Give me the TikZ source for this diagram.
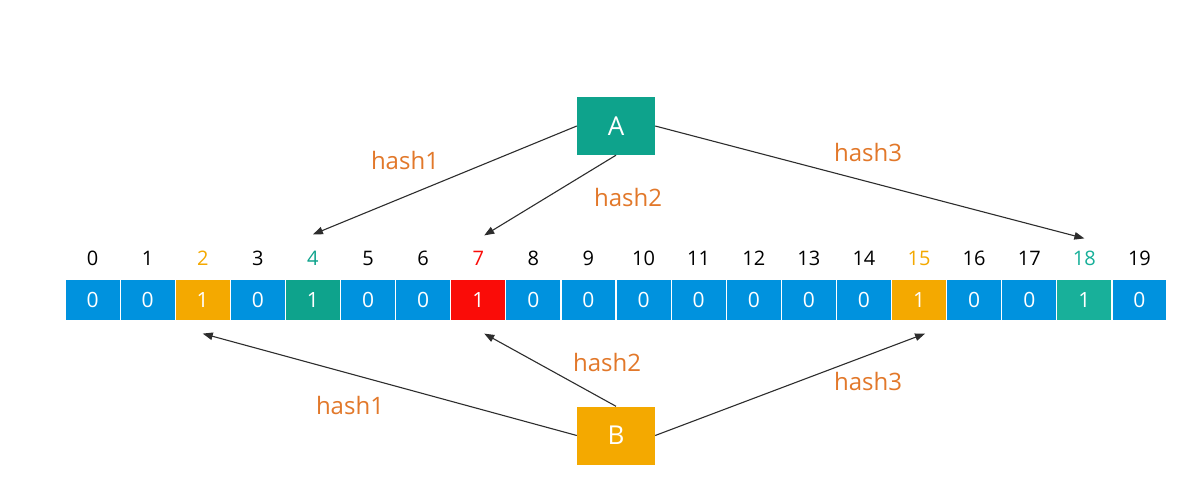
\documentclass[tikz,border=0pt]{standalone}
\usepackage{fontspec}
\setmainfont{Open Sans}
\usetikzlibrary{arrows.meta}
\definecolor{cblue}{RGB}{0,146,222}
\definecolor{cgold}{RGB}{244,169,0}
\definecolor{cteal}{RGB}{14,163,140}
\definecolor{cteal2}{RGB}{24,176,154}
\definecolor{cred}{RGB}{250,12,8}
\definecolor{horange}{RGB}{226,120,42}
\definecolor{lineg}{RGB}{45,45,45}
\tikzset{
  cell/.style={draw=white,line width=1.2pt,minimum width=55.1pt,minimum height=42pt,inner sep=0pt,text=white,font=\fontsize{21}{23}\selectfont},
  idx/.style={inner sep=0pt,font=\fontsize{20}{22}\selectfont},
  keybox/.style={minimum width=78pt,minimum height=58pt,inner sep=0pt,text=white,font=\fontsize{26}{28}\selectfont},
  hashlbl/.style={text=horange,inner sep=0pt,font=\fontsize{24}{26}\selectfont},
  arr/.style={draw=lineg,line width=1.1pt,-{Triangle[length=10pt,width=7.5pt]}}
}
\begin{document}
\begin{tikzpicture}[x=1pt,y=-1pt]
\useasboundingbox[fill=white] (0,0) rectangle (1186,498);
\foreach \i in {0,...,19}{
  \pgfmathsetmacro{\cx}{65+55.1*\i+27.55}
  \ifnum\i=2 \def\cc{cgold}\def\vv{1}\def\lc{cgold}
  \else\ifnum\i=4 \def\cc{cteal}\def\vv{1}\def\lc{cteal}
  \else\ifnum\i=7 \def\cc{cred}\def\vv{1}\def\lc{cred}
  \else\ifnum\i=15 \def\cc{cgold}\def\vv{1}\def\lc{cgold}
  \else\ifnum\i=18 \def\cc{cteal2}\def\vv{1}\def\lc{cteal2}
  \else \def\cc{cblue}\def\vv{0}\def\lc{black}
  \fi\fi\fi\fi\fi
  \node[cell,fill=\cc] (c\i) at (\cx,300) {\vv};
  \node[idx,text=\lc] (l\i) at (\cx,258) {\i};
}
\node[keybox,fill=cteal] (A) at (616,126) {A};
\node[keybox,fill=cgold] (B) at (616,435.5) {B};

\draw[arr] (A.west) -- ([yshift=44pt]c4.north);
\draw[arr] (A.south) -- ([xshift=6pt,yshift=43pt]c7.north);
\draw[arr] (A.east) -- ([yshift=40pt]c18.north);
\draw[arr] (B.west) -- ([yshift=-12pt]c2.south);
\draw[arr] (B.north) -- ([xshift=6pt,yshift=-12pt]c7.south);
\draw[arr] (B.east) -- ([xshift=6pt,yshift=-12pt]c15.south);

\node[hashlbl] (ha1) at (405,160) {hash1};
\node[hashlbl] (ha2) at (628,197) {hash2};
\node[hashlbl] (ha3) at (868,152) {hash3};
\node[hashlbl] (hb2) at (607,362) {hash2};
\node[hashlbl] (hb1) at (350,405) {hash1};
\node[hashlbl] (hb3) at (868,381) {hash3};
\end{tikzpicture}
\end{document}
